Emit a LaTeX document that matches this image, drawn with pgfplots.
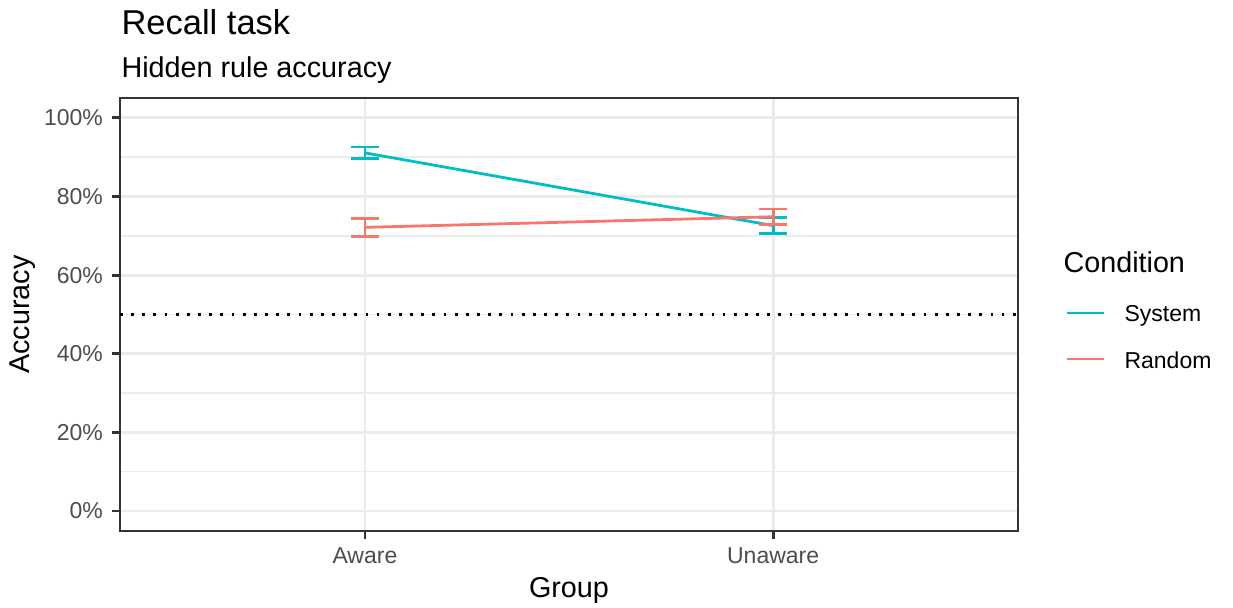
\documentclass[border=0pt]{standalone}
\usepackage{pgfplots}
\pgfplotsset{compat=1.18}
\usepackage{fontspec}
\setmainfont{Liberation Sans}
\definecolor{sys}{HTML}{00BFC4}
\definecolor{rnd}{HTML}{F8766D}
\definecolor{gridc}{HTML}{EBEBEB}
\definecolor{border}{HTML}{333333}
\definecolor{ticklab}{HTML}{4D4D4D}
\begin{document}
\begin{tikzpicture}
\begin{axis}[
  at={(0,0)}, anchor=south west, scale only axis,
  width=343.6pt, height=165.7pt,
  xmin=0.4, xmax=2.6, ymin=-5.08, ymax=105.08,
  xtick={1,2}, xticklabels={Aware,Unaware},
  ytick={0,20,40,60,80,100}, yticklabels={0\%,20\%,40\%,60\%,80\%,100\%},
  minor ytick={10,30,50,70,90},
  grid=both,
  major grid style={gridc, line width=1.07pt},
  minor grid style={gridc, line width=0.53pt},
  axis line style={border, line width=1.07pt},
  every tick/.style={border, line width=1.07pt},
  tick align=outside, major tick length=3pt, minor tick length=0pt,
  xtick pos=bottom, ytick pos=left,
  ticklabel style={font=\fontsize{8.8}{10}\selectfont, text=ticklab},
  /pgf/number format/assume math mode=true,
]
\addplot[black, line width=1.07pt, dash pattern=on 1.07pt off 3.2pt] coordinates {(0.4,50) (2.6,50)};
\addplot[sys, line width=1.07pt, mark=none,
  error bars/.cd, y dir=both, y explicit,
  error bar style={line width=1.07pt, sys},
  error mark options={sys, line width=1.07pt, mark size=5.36pt, rotate=90}]
  coordinates {(1,91.1) +- (0,1.5) (2,72.6) +- (0,2.0)};
\addplot[rnd, line width=1.07pt, mark=none,
  error bars/.cd, y dir=both, y explicit,
  error bar style={line width=1.07pt, rnd},
  error mark options={rnd, line width=1.07pt, mark size=5.36pt, rotate=90}]
  coordinates {(1,72.15) +- (0,2.25) (2,74.85) +- (0,1.95)};
\end{axis}
\begin{scope}[shift={(-45.91pt,203.16pt)}, x=0.3826pt, y=-0.3826pt]
\node[anchor=base west, font=\fontsize{13.2}{15}\selectfont, inner sep=0] at (121,35) {Recall task};
\node[anchor=base west, font=\fontsize{11}{13}\selectfont, inner sep=0] at (121,78) {Hidden rule accuracy};
\node[anchor=base, font=\fontsize{11}{13}\selectfont, inner sep=0] at (569,597) {Group};
\node[anchor=base, rotate=90, font=\fontsize{11}{13}\selectfont, inner sep=0] at (30,314.5) {Accuracy};
\node[anchor=base west, font=\fontsize{11}{13}\selectfont, inner sep=0] at (1063,273) {Condition};
\draw[sys, line width=1.07pt] (1067,313) -- (1104,313);
\draw[rnd, line width=1.07pt] (1067,359) -- (1104,359);
\node[anchor=base west, font=\fontsize{8.8}{10}\selectfont, inner sep=0] at (1124,322) {System};
\node[anchor=base west, font=\fontsize{8.8}{10}\selectfont, inner sep=0] at (1124,368) {Random};
\pgfresetboundingbox
\path[use as bounding box] (0,0) rectangle (1233,607);
\end{scope}
\end{tikzpicture}
\end{document}
